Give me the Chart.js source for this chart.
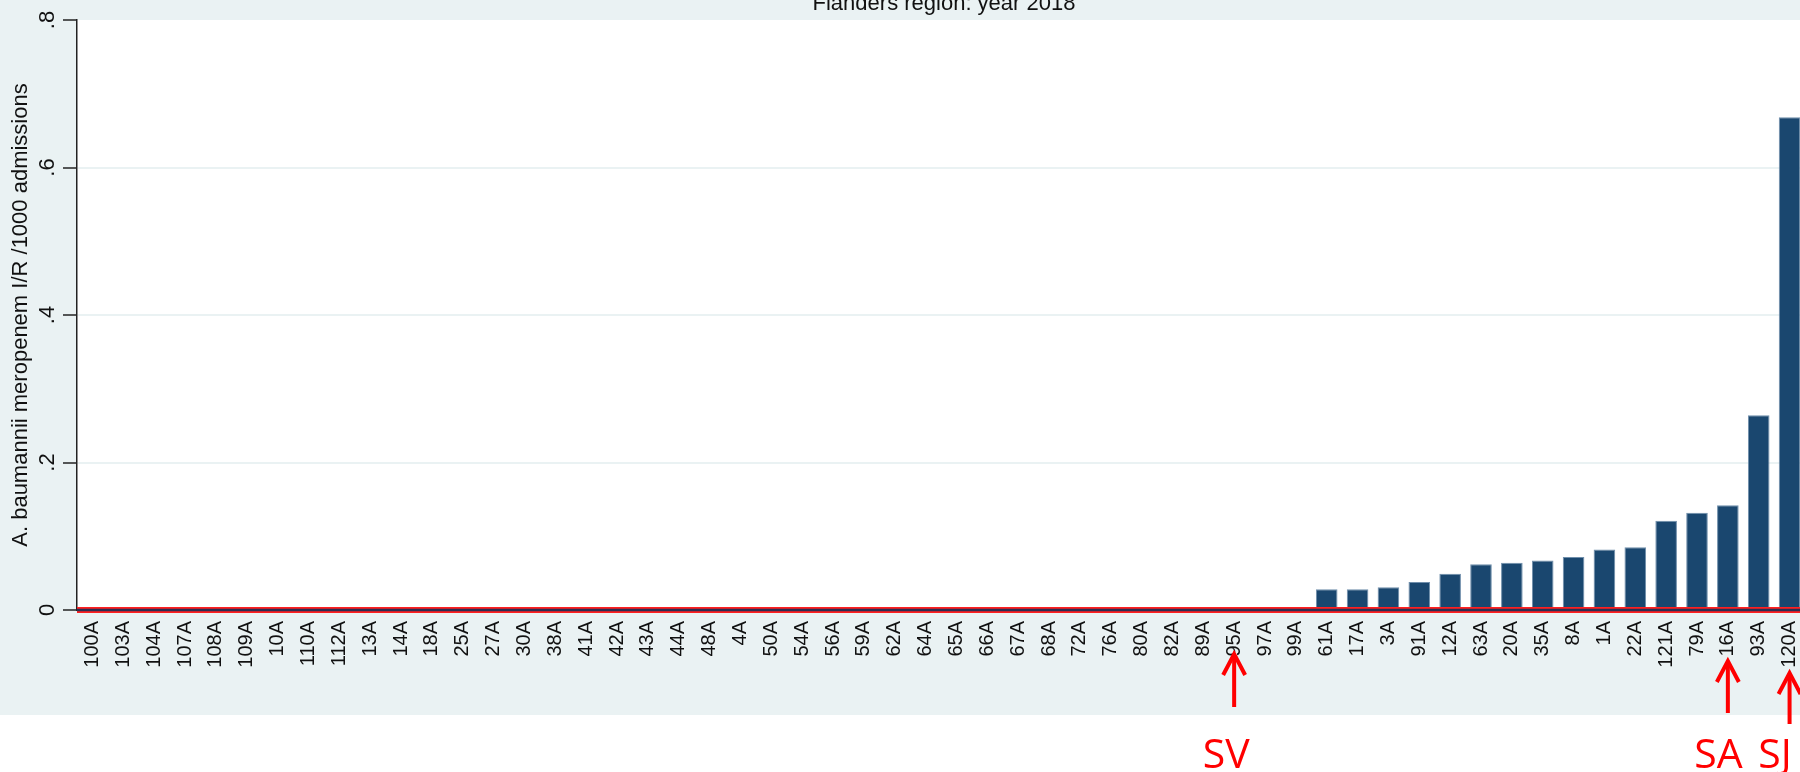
<!DOCTYPE html>
<html>
<head>
<meta charset="utf-8">
<script src="https://cdn.jsdelivr.net/npm/chart.js@4.4.1/dist/chart.umd.min.js"></script>
<style>
  html, body { margin: 0; padding: 0; background: #fff; overflow: hidden; }
  #wrap { width: 1806px; height: 772px; position: relative; }
</style>
</head>
<body>
<div id="wrap"><canvas id="myChart"></canvas></div>
<script>
// hospitals, sorted by rate
let hospitals = ['100A', '103A', '104A', '107A', '108A', '109A', '10A', '110A', '112A', '13A',
    '14A', '18A', '25A', '27A', '30A', '38A', '41A', '42A', '43A', '44A',
    '48A', '4A', '50A', '54A', '56A', '59A', '62A', '64A', '65A', '66A',
    '67A', '68A', '72A', '76A', '80A', '82A', '89A', '95A', '97A', '99A',
    '61A', '17A', '3A', '91A', '12A', '63A', '20A', '35A', '8A', '1A',
    '22A', '121A', '79A', '16A', '93A', '120A'];

// A. baumannii meropenem I/R per 1000 admissions
let rates = [0, 0, 0, 0, 0, 0, 0, 0, 0, 0,
    0, 0, 0, 0, 0, 0, 0, 0, 0, 0,
    0, 0, 0, 0, 0, 0, 0, 0, 0, 0,
    0, 0, 0, 0, 0, 0, 0, 0, 0, 0,
    0.028, 0.028, 0.031, 0.038, 0.049, 0.062, 0.064, 0.067, 0.072, 0.082,
    0.085, 0.121, 0.132, 0.142, 0.264, 0.668];

let yTicks = [0, 0.2, 0.4, 0.6, 0.8];

// arrows under some hospitals
let markedHospitals = ['95A', '16A', '120A'];
let markedNames = ['SV', 'SA', 'SJ'];

let titleText = 'Flanders region: year 2018';
let yTitle = 'A. baumannii meropenem I/R /1000 admissions';

const FONT = "'Liberation Sans', Arial, sans-serif";
const BG = '#eaf2f3';

let bgPlugin = {
    id: 'bg',
    beforeDraw(chart) {
        let c = chart.ctx, a = chart.chartArea;
        c.save();
        c.fillStyle = '#fff';
        c.fillRect(0, 0, chart.width, chart.height);
        c.fillStyle = BG;
        c.fillRect(0, 0, chart.width, 715);
        c.fillStyle = '#fff';
        c.fillRect(a.left, a.top, a.right - a.left, a.bottom - a.top);
        c.restore();
    }
};

let extrasPlugin = {
    id: 'extras',
    afterDatasetsDraw(chart) {
        let c = chart.ctx, a = chart.chartArea;
        let y0 = chart.scales.y.getPixelForValue(0);
        c.save();
        // red zero line
        c.strokeStyle = '#ff2020';
        c.lineWidth = 6;
        c.beginPath(); c.moveTo(a.left, y0); c.lineTo(a.right, y0); c.stroke();
        c.strokeStyle = '#2a2f52';
        c.lineWidth = 2.5;
        c.beginPath(); c.moveTo(a.left, y0); c.lineTo(a.right, y0); c.stroke();

        // title (cut off at top in the original)
        c.fillStyle = '#111';
        c.font = '22px ' + FONT;
        c.textAlign = 'center';
        c.textBaseline = 'alphabetic';
        c.fillText(titleText, (a.left + a.right) / 2 + 3, 9.5);
        c.restore();
    },
    afterDraw(chart) {
        let c = chart.ctx;
        let xs = chart.scales.x;
        let tipY = [653, 660, 672], endY = [707, 713, 724], textDx = [-8, -9.5, -14.5];
        c.save();
        c.strokeStyle = '#ff0000';
        c.fillStyle = '#ff0000';
        c.lineWidth = 4;
        c.lineCap = 'butt';
        markedHospitals.forEach((h, i) => {
            let x = xs.getPixelForValue(hospitals.indexOf(h));
            c.beginPath();
            c.moveTo(x, endY[i]); c.lineTo(x, tipY[i] + 2);
            c.stroke();
            c.beginPath();
            c.moveTo(x - 11, tipY[i] + 22); c.lineTo(x, tipY[i] + 1); c.lineTo(x + 11, tipY[i] + 22);
            c.stroke();
            c.font = "41px 'Open Sans', sans-serif";
            c.textAlign = 'center';
            c.textBaseline = 'alphabetic';
            c.fillText(markedNames[i], x + textDx[i], 768);
        });
        c.restore();
    }
};

let ctx = document.querySelector('#myChart').getContext('2d');

let myChart = new Chart(ctx, {
    type: 'bar',
    data: {
        labels: hospitals,
        datasets: [{
            data: rates,
            backgroundColor: 'rgb(26, 71, 111)',
            borderColor: '#6f8eab',
            borderWidth: 1,
            barPercentage: 0.7,
            categoryPercentage: 1.0
        }]
    },
    options: {
        responsive: true,
        maintainAspectRatio: false,
        animation: false,
        layout: { padding: { top: 20, right: 1, left: 0, bottom: 0 } },
        plugins: {
            legend: { display: false },
            tooltip: { enabled: false }
        },
        scales: {
            x: {
                grid: { display: false, drawTicks: false },
                border: { display: false },
                ticks: {
                    autoSkip: false,
                    minRotation: 90,
                    maxRotation: 90,
                    padding: 11,
                    color: '#111',
                    font: { family: FONT, size: 20 }
                },
                afterFit(s) {
                    s.height = 162;
                    s.paddingLeft = 0;
                    s.paddingRight = 0;
                }
            },
            y: {
                min: 0,
                max: 0.8,
                afterBuildTicks(s) { s.ticks = yTicks.map(v => ({ value: v })); },
                grid: {
                    color: c => (c.tick && c.tick.value > 0 && c.tick.value < 0.8) ? BG : 'rgba(0,0,0,0)',
                    lineWidth: 2,
                    tickColor: '#222',
                    tickWidth: 1.5,
                    tickLength: 14
                },
                border: { display: true, color: '#222', width: 1.5 },
                ticks: {
                    minRotation: 90,
                    maxRotation: 90,
                    crossAlign: 'center',
                    padding: 6,
                    color: '#111',
                    font: { family: FONT, size: 22 },
                    callback: v => v === 0 ? '0' : Number(v).toFixed(1).replace(/^0/, '')
                },
                title: {
                    display: true,
                    text: yTitle,
                    color: '#111',
                    font: { family: FONT, size: 22 },
                    padding: { top: 8, bottom: 0 }
                },
                afterFit(s) { s.width = 77; }
            }
        }
    },
    plugins: [bgPlugin, extrasPlugin]
});
</script>
</body>
</html>
